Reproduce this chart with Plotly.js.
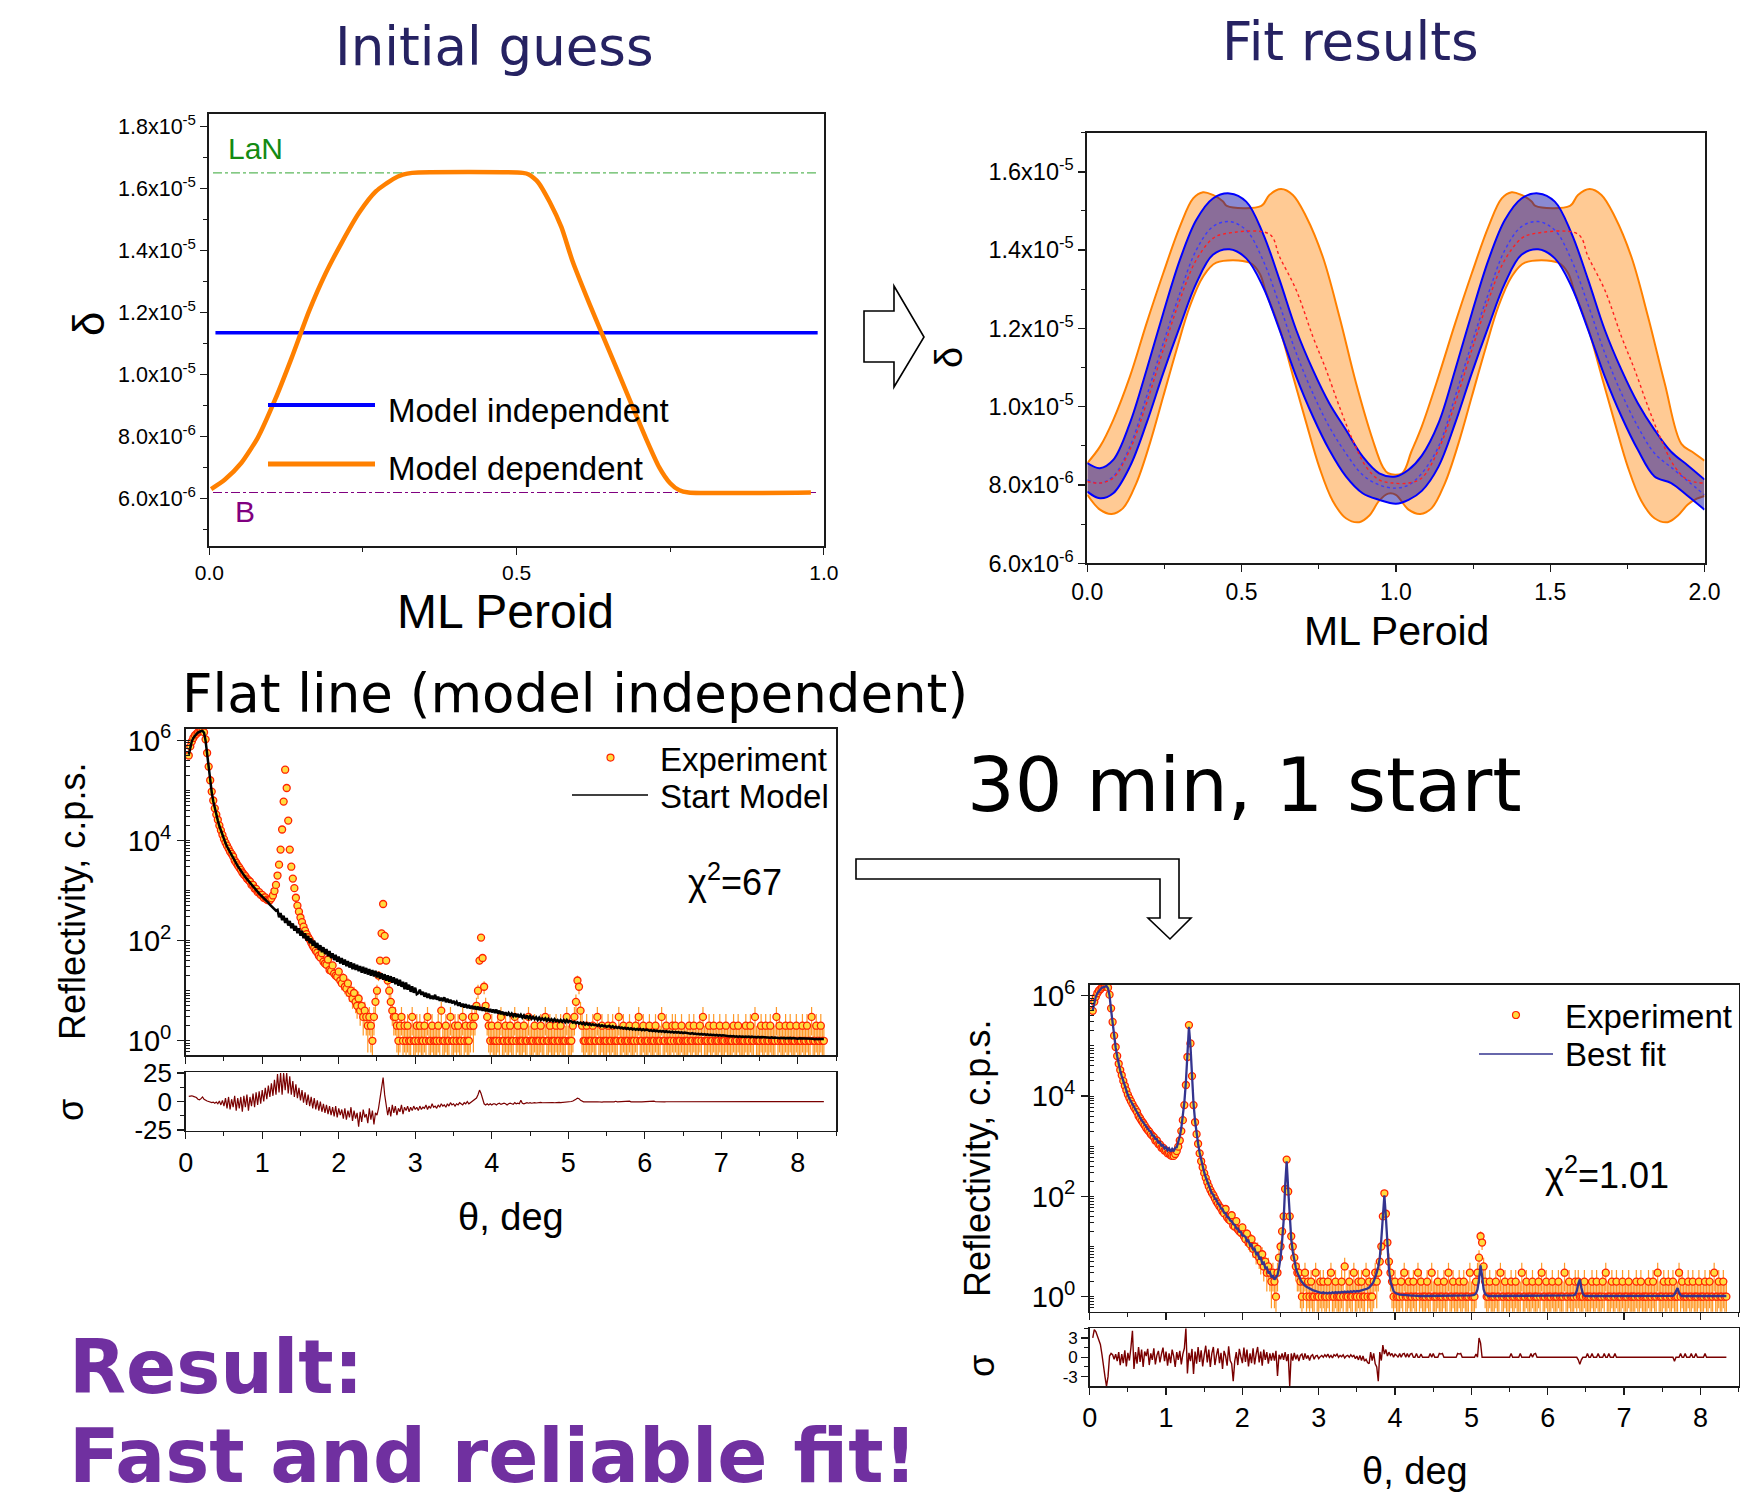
<!DOCTYPE html>
<html>
<head>
<meta charset="utf-8">
<script src="https://cdn.plot.ly/plotly-3.0.1.min.js"></script>
<style>
  html, body { margin: 0; padding: 0; background: #ffffff; }
  #chart { width: 1760px; height: 1503px; }
</style>
</head>
<body>
<div id="chart"></div>
<script>
// ---------------------------------------------------------------------------
// Optical constant profile across one multilayer period (initial guess)
// ---------------------------------------------------------------------------
const deltaLaN = 1.65e-5;          // tabulated delta of LaN
const deltaB = 6.2e-6;             // tabulated delta of B
const deltaFlat = 1.135e-5;        // model-independent start: flat line
const refLineX = [0.006, 0.99];
const flatLineX = [0.01, 0.99];

const modelDepX = [0.003, 0.025, 0.052, 0.079, 0.107, 0.134, 0.162, 0.189, 0.216, 0.244,
  0.271, 0.299, 0.315, 0.33, 0.51, 0.52, 0.535, 0.554, 0.573, 0.591,
  0.618, 0.641, 0.664, 0.687, 0.71, 0.732, 0.75, 0.765, 0.78, 0.979];
const modelDepDelta = [6.31e-6, 6.61e-6, 7.15e-6, 7.97e-6, 9.19e-6, 10.54e-6, 12.03e-6, 13.25e-6, 14.27e-6, 15.22e-6,
  15.9e-6, 16.3e-6, 16.44e-6, 16.5e-6, 16.5e-6, 16.45e-6, 16.2e-6, 15.56e-6, 14.75e-6, 13.66e-6,
  12.31e-6, 11.22e-6, 10.14e-6, 9.05e-6, 7.97e-6, 7.02e-6, 6.5e-6, 6.27e-6, 6.2e-6, 6.2e-6];

// ---------------------------------------------------------------------------
// Fitted delta profiles over two periods with their confidence corridors
// ---------------------------------------------------------------------------
const depUpperX = [0, 0.041, 0.084, 0.138, 0.192, 0.246, 0.3, 0.343, 0.375, 0.407,
  0.44, 0.452, 0.564, 0.59, 0.628, 0.666, 0.709, 0.763, 0.817, 0.871,
  0.925, 0.957, 0.975, 1.02, 1.05, 1.084, 1.138, 1.192, 1.246, 1.3,
  1.343, 1.375, 1.407, 1.44, 1.452, 1.564, 1.59, 1.628, 1.666, 1.709,
  1.763, 1.817, 1.871, 1.925, 1.96, 2.0];
const depUpper = [8.56e-6, 8.98e-6, 9.66e-6, 10.77e-6, 12.13e-6, 13.41e-6, 14.6e-6, 15.32e-6, 15.48e-6, 15.41e-6,
  15.24e-6, 15.13e-6, 15.13e-6, 15.41e-6, 15.56e-6, 15.41e-6, 14.86e-6, 13.83e-6, 12.3e-6, 10.6e-6,
  9.15e-6, 8.47e-6, 8.3e-6, 8.3e-6, 8.85e-6, 9.5e-6, 10.77e-6, 12.13e-6, 13.41e-6, 14.6e-6,
  15.32e-6, 15.48e-6, 15.41e-6, 15.24e-6, 15.13e-6, 15.13e-6, 15.41e-6, 15.56e-6, 15.41e-6, 14.86e-6,
  13.83e-6, 12.3e-6, 10.6e-6, 9.05e-6, 8.85e-6, 8.62e-6];
const depLowerX = [0, 0.041, 0.079, 0.116, 0.159, 0.203, 0.246, 0.289, 0.332, 0.375,
  0.418, 0.526, 0.558, 0.58, 0.623, 0.666, 0.709, 0.752, 0.795, 0.838,
  0.881, 0.914, 0.946, 0.975, 1.0, 1.041, 1.079, 1.116, 1.159, 1.203,
  1.246, 1.289, 1.332, 1.375, 1.418, 1.526, 1.558, 1.58, 1.623, 1.666,
  1.709, 1.752, 1.795, 1.838, 1.881, 1.914, 1.946, 1.975, 2.0];
const depLower = [7.75e-6, 7.37e-6, 7.26e-6, 7.41e-6, 8.05e-6, 9.07e-6, 10.26e-6, 11.45e-6, 12.56e-6, 13.32e-6,
  13.68e-6, 13.68e-6, 13.41e-6, 12.9e-6, 12.0e-6, 10.8e-6, 9.6e-6, 8.45e-6, 7.6e-6, 7.15e-6,
  7.05e-6, 7.22e-6, 7.6e-6, 7.78e-6, 7.75e-6, 7.37e-6, 7.26e-6, 7.41e-6, 8.05e-6, 9.07e-6,
  10.26e-6, 11.45e-6, 12.56e-6, 13.32e-6, 13.68e-6, 13.68e-6, 13.41e-6, 12.9e-6, 12.0e-6, 10.8e-6,
  9.6e-6, 8.45e-6, 7.6e-6, 7.15e-6, 7.05e-6, 7.22e-6, 7.5e-6, 7.65e-6, 7.72e-6];

const indepX = [0, 0.041, 0.084, 0.138, 0.192, 0.246, 0.3, 0.353, 0.407, 0.461,
  0.515, 0.569, 0.623, 0.677, 0.731, 0.784, 0.838, 0.892, 0.946, 1.0,
  1.041, 1.084, 1.138, 1.192, 1.246, 1.3, 1.353, 1.407, 1.461, 1.515,
  1.569, 1.623, 1.677, 1.731, 1.784, 1.838, 1.892, 1.946, 2.0];
const indepUpper = [8.56e-6, 8.43e-6, 8.64e-6, 9.58e-6, 10.94e-6, 12.39e-6, 13.75e-6, 14.77e-6, 15.32e-6, 15.45e-6,
  15.24e-6, 14.43e-6, 13.24e-6, 11.96e-6, 10.94e-6, 10.09e-6, 9.41e-6, 8.73e-6, 8.3e-6, 8.22e-6,
  8.39e-6, 8.75e-6, 9.58e-6, 10.94e-6, 12.39e-6, 13.75e-6, 14.77e-6, 15.32e-6, 15.45e-6, 15.24e-6,
  14.43e-6, 13.24e-6, 11.96e-6, 10.94e-6, 10.09e-6, 9.41e-6, 8.85e-6, 8.5e-6, 8.14e-6];
const indepLower = [7.83e-6, 7.66e-6, 7.79e-6, 8.47e-6, 9.58e-6, 10.86e-6, 12.05e-6, 13.15e-6, 13.88e-6, 14.02e-6,
  13.79e-6, 13.07e-6, 11.96e-6, 10.77e-6, 9.75e-6, 8.9e-6, 8.22e-6, 7.79e-6, 7.62e-6, 7.52e-6,
  7.62e-6, 7.85e-6, 8.47e-6, 9.58e-6, 10.86e-6, 12.05e-6, 13.15e-6, 13.88e-6, 14.02e-6, 13.79e-6,
  13.07e-6, 11.96e-6, 10.77e-6, 9.75e-6, 8.9e-6, 8.22e-6, 8.05e-6, 7.72e-6, 7.37e-6];
const indepBest = [8.13e-6, 8.05e-6, 8.22e-6, 8.98e-6, 10.26e-6, 11.62e-6, 12.9e-6, 14.0e-6, 14.6e-6, 14.73e-6,
  14.51e-6, 13.75e-6, 12.6e-6, 11.37e-6, 10.34e-6, 9.49e-6, 8.81e-6, 8.26e-6, 8.0e-6, 7.92e-6,
  8.0e-6, 8.3e-6, 8.98e-6, 10.26e-6, 11.62e-6, 12.9e-6, 14.0e-6, 14.6e-6, 14.73e-6, 14.51e-6,
  13.75e-6, 12.6e-6, 11.37e-6, 10.34e-6, 9.49e-6, 8.81e-6, 8.45e-6, 8.1e-6, 7.75e-6];
const depBestX = [0, 0.041, 0.084, 0.138, 0.192, 0.246, 0.3, 0.353, 0.407, 0.44,
  0.59, 0.623, 0.677, 0.731, 0.774, 0.817, 0.86, 0.903, 0.946, 0.989,
  1.041, 1.084, 1.138, 1.192, 1.246, 1.3, 1.353, 1.407, 1.44, 1.59,
  1.623, 1.677, 1.731, 1.774, 1.817, 1.86, 1.903, 1.946, 2.0];
const depBest = [8.09e-6, 8.05e-6, 8.18e-6, 8.9e-6, 10.09e-6, 11.45e-6, 12.73e-6, 13.75e-6, 14.3e-6, 14.41e-6,
  14.41e-6, 13.83e-6, 12.98e-6, 11.79e-6, 10.94e-6, 10.0e-6, 9.15e-6, 8.47e-6, 8.13e-6, 8.05e-6,
  8.05e-6, 8.18e-6, 8.9e-6, 10.09e-6, 11.45e-6, 12.73e-6, 13.75e-6, 14.3e-6, 14.41e-6, 14.41e-6,
  13.83e-6, 12.98e-6, 11.79e-6, 10.94e-6, 10.0e-6, 9.15e-6, 8.47e-6, 8.13e-6, 8.05e-6];

// ---------------------------------------------------------------------------
// X-ray reflectivity curves, sampled every 0.02 deg starting at 0.04 deg
// ---------------------------------------------------------------------------
const theta0 = 0.04;
const thetaStep = 0.02;

const expCounts = [
  5.0e5, 7.6e5, 9.5e5, 1.12e6, 1.26e6, 1.35e6, 1.45e6, 1.5e6, 1.55e6, 1.55e6, 1.45e6, 1.05e6, 5.6e5, 3.0e5, 1.6e5, 9.5e4, 6.3e4, 4.4e4, 3.3e4, 2.6e4, 2.0e4, 1.6e4, 1.3e4, 1.07e4, 9.1e3,
  7.9e3, 6.9e3, 6.0e3, 5.4e3, 4.8e3, 4.0e3, 3.6e3, 3.2e3, 2.9e3, 2.6e3, 2.3e3, 2.1e3, 1.95e3, 1.74e3, 1.62e3, 1.52e3, 1.3e3, 1.3e3, 1.1e3, 1.08e3, 930, 930, 820, 820, 720,
  730, 660, 640, 640, 700, 800, 980, 1.3e3, 2.0e3, 3.3e3, 6.6e3, 1.66e4, 6.0e4, 2.6e5, 1.12e5, 2.5e4, 6.6e3, 3.0e3, 1.74e3, 1.12e3, 720, 500, 380, 290, 234,
  190, 158, 135, 117, 105, 91, 79, 71, 63, 58, 50, 46, 56, 38, 35, 33, 42, 26, 25, 32, 22, 20, 19, 24, 16,
  14, 18, 12, 11, 14, 9, 10, 7, 9, 6, 5, 7, 4, 5, 3, 4, 3, 2, 3, 2, 1, 3, 6, 10, 20,
  40, 140, 540, 125, 40, 16, 10, 6, 4, 3, 3, 2, 1, 2, 3, 1, 2, 1, 2, 1, 1, 3, 1, 1, 2,
  1, 2, 1, 1, 2, 1, 3, 1, 1, 2, 1, 1, 1, 2, 1, 4, 1, 1, 2, 1, 1, 3, 1, 1, 2,
  1, 2, 1, 1, 3, 1, 2, 1, 1, 2, 3, 2, 3, 5, 10, 40, 115, 45, 12, 5, 3, 2, 1, 2, 1,
  1, 1, 2, 1, 3, 1, 1, 2, 1, 1, 2, 1, 1, 3, 1, 2, 1, 1, 1, 2, 1, 1, 3, 1, 1,
  1, 2, 1, 1, 1, 2, 1, 1, 3, 1, 1, 2, 1, 1, 1, 2, 1, 1, 2, 1, 1, 1, 3, 1, 1,
  1, 2, 3, 6, 16, 12, 4, 2, 1, 1, 2, 1, 1, 1, 2, 1, 1, 3, 1, 1, 2, 1, 1, 1, 2,
  1, 1, 2, 1, 1, 1, 3, 1, 1, 2, 1, 1, 1, 2, 1, 1, 1, 2, 1, 3, 1, 1, 2, 1, 1,
  1, 2, 1, 1, 1, 2, 1, 1, 1, 3, 1, 1, 2, 1, 1, 1, 2, 1, 2, 1, 1, 1, 2, 1, 1,
  1, 1, 2, 1, 1, 2, 1, 1, 1, 2, 1, 3, 1, 1, 1, 2, 1, 1, 2, 1, 1, 1, 2, 1, 1,
  1, 2, 1, 1, 1, 1, 2, 1, 1, 2, 1, 1, 1, 1, 2, 1, 1, 2, 1, 1, 3, 1, 1, 1, 2,
  1, 1, 2, 1, 1, 2, 1, 1, 1, 3, 1, 2, 1, 1, 1, 2, 1, 1, 2, 1, 1, 1, 2, 1, 1,
  1, 2, 1, 1, 2, 1, 1, 3, 1, 1, 2, 1, 1, 2, 1, 1];

const startModel = [
  5.2e5, 7.8e5, 9.6e5, 1.12e6, 1.25e6, 1.34e6, 1.43e6, 1.5e6, 1.54e6, 1.54e6, 1.42e6, 9.8e5, 5.2e5, 2.8e5, 1.5e5, 9.2e4, 6.1e4, 4.3e4, 3.2e4, 2.5e4, 1.95e4, 1.56e4, 1.27e4, 1.05e4, 8.9e3,
  7.6e3, 6.6e3, 5.8e3, 5.0e3, 4.5e3, 3.9e3, 3.5e3, 3.1e3, 2.75e3, 2.5e3, 2.24e3, 2.04e3, 1.86e3, 1.7e3, 1.55e3, 1.41e3, 1.29e3, 1.2e3, 1.1e3, 1.02e3, 930, 870, 810, 760, 710,
  660, 617, 575, 525, 490, 457, 427, 398, 412, 292, 355, 257, 316, 226, 282, 200, 248, 178, 221, 158, 197, 141, 176, 126, 157,
  112, 140, 100, 124, 89, 111, 79, 100, 72, 90, 65, 81, 59, 74, 54, 68, 49, 62, 45, 56, 41, 52, 38, 48, 35,
  45, 33, 42, 31, 39, 29, 37, 27, 35, 26, 33, 24.5, 31, 23, 30, 22, 28.5, 21, 27, 20, 26, 19.3, 25, 18.4, 23.7,
  17.4, 22.4, 16.6, 21.4, 15.8, 20.4, 15.1, 19.5, 14.5, 18.6, 13.5, 17.4, 12.6, 16.6, 12, 15.1, 10.7, 14.5, 10.5, 13.2, 9.5, 12.3, 9.1, 11.5, 8.5,
  8.9, 10.5, 8.3, 9.5, 7.6, 9.1, 7.2, 8.7, 6.9, 7.9, 6.8, 8.3, 6.6, 7.6, 6.3, 7.2, 6.2, 7.4, 5.9, 6.9, 5.8, 6.6, 5.6, 6.3, 5.5,
  6.0, 5.0, 5.8, 4.8, 5.5, 4.6, 5.4, 4.5, 5.2, 4.4, 5.0, 4.3, 4.9, 4.2, 4.8, 4.1, 4.7, 4.0, 4.6, 3.9, 4.4, 3.8, 4.3, 3.7, 4.2,
  3.6, 4.2, 3.5, 4.0, 3.4, 3.8, 3.3, 3.7, 3.2, 3.6, 3.2, 3.5, 3.1, 3.5, 3.0, 3.4, 2.95, 3.3, 2.9, 3.2, 2.8, 3.2, 2.8, 3.1, 2.75,
  3.0, 2.7, 2.95, 2.6, 2.9, 2.6, 2.8, 2.6, 2.8, 2.5, 2.75, 2.5, 2.7, 2.45, 2.7, 2.45, 2.6, 2.4, 2.6, 2.4, 2.6, 2.35, 2.6, 2.35, 2.5,
  2.45, 2.3, 2.4, 2.25, 2.35, 2.2, 2.3, 2.15, 2.3, 2.1, 2.25, 2.1, 2.2, 2.05, 2.15, 2.05, 2.1, 2.0, 2.1, 1.95, 2.05, 1.95, 2.0, 1.9, 1.95,
  1.98, 1.85, 1.95, 1.82, 1.9, 1.8, 1.88, 1.78, 1.85, 1.75, 1.82, 1.72, 1.8, 1.7, 1.78, 1.68, 1.75, 1.66, 1.73, 1.65, 1.72, 1.63, 1.7, 1.62, 1.68,
  1.65, 1.58, 1.63, 1.56, 1.62, 1.55, 1.6, 1.53, 1.58, 1.52, 1.57, 1.5, 1.55, 1.49, 1.53, 1.47, 1.52, 1.46, 1.5, 1.45, 1.49, 1.44, 1.48, 1.42, 1.46,
  1.44, 1.4, 1.43, 1.38, 1.42, 1.37, 1.4, 1.35, 1.38, 1.34, 1.37, 1.33, 1.36, 1.31, 1.35, 1.3, 1.33, 1.29, 1.32, 1.28, 1.31, 1.27, 1.3, 1.26, 1.29,
  1.27, 1.24, 1.26, 1.23, 1.25, 1.22, 1.24, 1.21, 1.23, 1.2, 1.23, 1.2, 1.22, 1.19, 1.22, 1.19, 1.21, 1.18, 1.21, 1.18, 1.2, 1.17, 1.2, 1.17, 1.19,
  1.18, 1.16, 1.18, 1.15, 1.17, 1.15, 1.17, 1.14, 1.16, 1.14, 1.16, 1.13, 1.15, 1.13, 1.15, 1.12, 1.14, 1.12, 1.14, 1.11, 1.13, 1.11, 1.13, 1.1, 1.12,
  1.12, 1.1, 1.12, 1.1, 1.11, 1.09, 1.11, 1.09, 1.1, 1.08, 1.1, 1.08, 1.1, 1.08, 1.09, 1.08];

const bestFit = [
  5.2e5, 7.6e5, 9.5e5, 1.12e6, 1.26e6, 1.35e6, 1.45e6, 1.5e6, 1.55e6, 1.55e6, 1.41e6, 1.0e6, 5.2e5, 2.8e5, 1.5e5, 9.3e4, 6.2e4, 4.3e4, 3.2e4, 2.5e4, 1.95e4, 1.55e4, 1.26e4, 1.05e4, 8.9e3,
  7.8e3, 6.8e3, 5.9e3, 5.2e3, 4.7e3, 4.2e3, 3.7e3, 3.3e3, 2.95e3, 2.7e3, 2.45e3, 2.24e3, 2.04e3, 1.95e3, 1.62e3, 1.62e3, 1.38e3, 1.38e3, 1.17e3, 1.2e3, 1.02e3, 1.05e3, 900, 960, 820,
  900, 780, 880, 790, 930, 950, 1.2e3, 1.58e3, 2.3e3, 3.8e3, 7.6e3, 1.9e4, 7.1e4, 2.4e5, 1.0e5, 2.2e4, 7.1e3, 3.2e3, 1.78e3, 1.12e3, 740, 525, 400, 300, 240,
  200, 155, 142, 115, 108, 89, 86, 71, 68, 57, 56, 47, 46, 39, 38, 33, 32, 28, 27, 23, 23, 19.5, 19.5, 16.5, 16.5,
  15.5, 12.8, 13.2, 10.6, 11.0, 8.8, 9.0, 7.1, 7.4, 5.8, 6.0, 4.6, 4.8, 3.7, 3.8, 3.0, 3.1, 2.5, 2.6, 2.2, 2.5, 2.7, 3.8, 6.0, 12.6,
  32, 160, 500, 140, 35, 14, 7.9, 5.2, 3.8, 3.0, 2.5, 2.2, 1.95, 1.78, 1.66, 1.58, 1.51, 1.45, 1.38, 1.35, 1.32, 1.29, 1.26, 1.23, 1.23,
  1.18, 1.22, 1.17, 1.2, 1.16, 1.21, 1.17, 1.22, 1.18, 1.23, 1.19, 1.24, 1.2, 1.25, 1.21, 1.26, 1.22, 1.27, 1.23, 1.28, 1.24, 1.29, 1.25, 1.3, 1.27,
  1.3, 1.32, 1.34, 1.37, 1.4, 1.45, 1.52, 1.62, 1.78, 2.0, 2.4, 3.0, 4.0, 6, 14, 45, 105, 38, 9, 3.5, 2.0, 1.5, 1.3, 1.2, 1.15,
  1.12, 1.1, 1.09, 1.08, 1.07, 1.07, 1.06, 1.06, 1.05, 1.05, 1.05, 1.04, 1.04, 1.04, 1.04, 1.03, 1.03, 1.03, 1.03, 1.03, 1.03, 1.03, 1.03, 1.03, 1.03,
  1.03, 1.03, 1.03, 1.03, 1.03, 1.03, 1.03, 1.03, 1.03, 1.03, 1.03, 1.03, 1.03, 1.03, 1.03, 1.03, 1.03, 1.03, 1.03, 1.03, 1.04, 1.04, 1.05, 1.06, 1.07,
  1.09, 1.16, 1.4, 2.2, 4.2, 2.6, 1.4, 1.12, 1.05, 1.03, 1.03, 1.03, 1.03, 1.03, 1.03, 1.03, 1.03, 1.03, 1.03, 1.03, 1.03, 1.03, 1.03, 1.03, 1.03,
  1.03, 1.03, 1.03, 1.03, 1.03, 1.03, 1.03, 1.03, 1.03, 1.03, 1.03, 1.03, 1.03, 1.03, 1.03, 1.03, 1.03, 1.03, 1.03, 1.03, 1.03, 1.03, 1.03, 1.03, 1.03,
  1.03, 1.03, 1.03, 1.03, 1.03, 1.03, 1.03, 1.03, 1.03, 1.03, 1.03, 1.03, 1.03, 1.03, 1.04, 1.06, 1.1, 1.3, 1.8, 2.2, 1.5, 1.15, 1.05, 1.03, 1.03,
  1.03, 1.03, 1.03, 1.03, 1.03, 1.03, 1.03, 1.03, 1.03, 1.03, 1.03, 1.03, 1.03, 1.03, 1.03, 1.03, 1.03, 1.03, 1.03, 1.03, 1.03, 1.03, 1.03, 1.03, 1.03,
  1.03, 1.03, 1.03, 1.03, 1.03, 1.03, 1.03, 1.03, 1.03, 1.03, 1.03, 1.03, 1.03, 1.03, 1.03, 1.03, 1.03, 1.03, 1.03, 1.03, 1.03, 1.03, 1.03, 1.03, 1.03,
  1.03, 1.03, 1.03, 1.03, 1.03, 1.04, 1.1, 1.3, 1.48, 1.2, 1.06, 1.03, 1.03, 1.03, 1.03, 1.03, 1.03, 1.03, 1.03, 1.03, 1.03, 1.03, 1.03, 1.03, 1.03,
  1.03, 1.03, 1.03, 1.03, 1.03, 1.03, 1.03, 1.03, 1.03, 1.03, 1.03, 1.03, 1.03, 1.03, 1.03, 1.03];

// normalised residuals (experiment - model) / error
const residStart = [
  4.5, 5, 5, 4.5, 4, 3.5, 2, 1.5, 2.5, 4, 2, 1, 0.5, 0, -0.5, -1, -0.5, -1.5, -0.5, -2, 0.5, -3, 1, -4, 3,
  -6, 4, -7, 2, -5, 5, -8, 3, -6, 4, -9, 5, -5, 6, -8, 4, -4, 7, -5, 8, -3, 9, -2, 10, 0,
  12, 2, 14, 4, 16, 5, 19, 6, 24, 8, 25, 6, 25, 10, 25, 7, 22, 6, 18, 4, 15, 3, 12, 1, 10,
  -1, 8, -3, 6, -4, 4, -6, 3, -7, 1, -8, 0, -9, -2, -10, -3, -11, -4, -12, -5, -13, -4, -14, -6, -12,
  -7, -15, -6, -16, -8, -14, -5, -17, -8, -15, -10, -22, -9, -18, -7, -14, -11, -19, -6, -16, -8, -20, -10, -12, -6,
  2, 10, 21, 6, -4, -12, -5, -13, -3, -10, -4, -12, -6, -9, -3, -11, -5, -8, -4, -9, -5, -8, -4, -7, -5,
  -8, -4, -7, -5, -6, -3, -7, -4, -6, -2, -5, -4, -6, -3, -5, -2, -4, -3, -5, -2, -4, -1, -3, -2, -4,
  -2, -3, -1, -2, -3, -1, -2, 0, -2, -1, 0, 1, 2, 3, 6, 10, 7, 2, -2, -3, -2, -3, -2, -3, -2,
  -2, -3, -2, -1.5, -2.5, -2, -1.5, -2, -3, -2, -1.5, -2, -2.5, -1, -2, -1.5, -2, 1, -1.5, -2, -1.5, -1, -1.5, -1, -1.5,
  -1.2, -1, -1.3, -1, -1.2, -0.8, -1.1, -1, -1.2, -0.9, -1, -1.1, -0.8, -1, -1.1, -0.9, -1, -0.8, -1, -0.9, -0.8, -1, -0.8, -0.7, -0.5,
  0, 0.5, 1, 2, 3, 2.5, 1, 0, -0.3, -0.3, -0.5, -0.3, -0.4, -0.3, -0.5, -0.3, -0.4, -0.2, -0.4, -0.3, -0.5, -0.3, -0.4, -0.3, -0.2,
  -0.3, -0.2, -0.4, -0.3, 0.2, -0.3, -0.2, -0.3, -0.4, -0.2, -0.3, -0.3, -0.2, 0.3, -0.3, -0.2, -0.3, -0.2, -0.3, -0.4, -0.2, -0.3, -0.2, -0.3, -0.2,
  -0.2, -0.3, -0.2, -0.2, 0.3, -0.2, -0.3, -0.2, -0.2, -0.1, -0.2, -0.3, -0.2, -0.2, -0.1, 0.3, -0.2, -0.2, -0.1, -0.2, -0.2, -0.1, -0.2, -0.2, -0.1,
  -0.2, -0.1, -0.2, -0.1, -0.2, -0.1, 0.3, -0.1, -0.2, -0.1, -0.1, -0.2, -0.1, -0.1, -0.2, -0.1, -0.1, 0.2, -0.1, -0.1, -0.2, -0.1, -0.1, -0.1, -0.2,
  -0.1, -0.1, -0.2, -0.1, -0.1, -0.1, 0.2, -0.1, -0.1, -0.1, -0.2, -0.1, -0.1, -0.1, -0.1, 0.3, -0.1, -0.1, -0.1, -0.1, -0.2, -0.1, -0.1, -0.1, -0.1,
  -0.1, -0.1, -0.1, 0.3, -0.1, -0.1, -0.1, -0.1, -0.1, -0.2, -0.1, -0.1, -0.1, 0.2, -0.1, -0.1, -0.1, -0.1, -0.1, -0.1, 0.2, -0.1, -0.1, -0.1, -0.1,
  -0.1, -0.1, 0.2, -0.1, -0.1, -0.1, -0.1, 0.2, -0.1, -0.1, -0.1, -0.1, 0.2, -0.1, -0.1, -0.1];

const residBest = [
  3, 4.3, 4, 3.2, 2.6, 2, 0.5, -1.5, -3, -4.5, -3, 0.2, 0.6, 0.4, -0.3, 0.5, -0.6, 0.8, -1.2, 0.5, -0.9, 1.1, -1.4, 0.7, -0.5,
  1.5, 4.1, -1.8, 0.8, -1, 1.6, -0.7, 1.2, -1.5, 0.9, 0.2, 1.3, -1.2, 0.6, -0.4, 1.4, -1.1, 0.3, 1.0, -0.8, 0.5, 1.5, -0.6, 0.9, -1.3,
  0.6, -0.9, 1.2, 0.2, -1.5, 0.8, -0.4, 1.0, -1.1, 0.5, 1.4, 4.5, -2.5, 0.7, -0.6, 1.3, -2.6, 0.9, -1.0, 1.6, -0.7, 1.1, -1.4, 0.4, 1.8,
  -0.8, 1.2, -1.5, 0.6, 1.6, -1.2, 0.3, 1.4, -0.9, 0.7, -1.8, 1.0, 0.2, -1.3, 1.7, -0.5, -1.0, -3.7, -0.6, 0.8, -1.2, 1.3, 0.1, -0.9, 1.5,
  -0.7, 1.2, -1.4, 0.6, -0.9, 1.4, -1.1, 0.5, 1.6, -0.8, 0.9, -1.3, 1.2, -0.4, 0.8, -1.0, 0.6, -0.5, 0.7, -0.5, 1.0, -2.9, 0.4, -0.3, 0.6,
  -0.4, 0.8, -0.6, 0.5, -4.5, 0.6, -0.5, 0.7, -0.3, 0.4, -0.6, 0.3, 0.5, -0.4, 0.6, -0.2, 0.3, -0.5, 0.2, 0.4, -0.3, 0.2, 0.3, -0.2, 0.1,
  0.3, 0, 0.4, 0.1, 0.5, 0, 0.3, -0.1, 0.4, 0.2, 0.5, 0, 0.3, 0.1, 0.4, -0.1, 0.2, 0.3, 0, 0.4, 0.1, 0.3, -0.2, 0.2, -0.4,
  0.3, -0.5, 0.2, -0.6, -0.3, -0.8, -1.0, 0.8, -0.5, 0.6, -1.0, -1.5, -3.7, 0.8, -0.5, 1.9, 0.5, 1.2, 0.2, 0.8, 0.3, 0.6, 0, 0.5, 0.3,
  0, 0.6, 0, 0.5, 0.6, 0, 0.6, 0, 0.5, 0.6, 0, 0, 0.6, 0, 0, 0.5, 0, 0, 0, 0, 0, 0.6, 0, 0.6, 0,
  0, 0, 0.6, 0.5, 0.6, 0, 0, 0, 0, 0, 0, 0, 0, 0, 0.6, 0.5, 0.6, 0, 0, 0, 0, 0, 0, 0, 0,
  0, 0.5, 0, 3, 2.2, 0, 0, 0, 0, 0, 0, 0, 0, 0, 0, 0, 0, 0, 0, 0, 0, 0, 0, 0, 0.6,
  0, 0, 0, 0, 0, 0.6, 0, 0, 0, 0, 0, 0, 0.6, 0, 0.5, 0.6, 0, 0, 0, 0, 0, 0, 0, 0, 0,
  0, 0, 0, 0, 0, 0, 0, 0, 0, 0, 0, 0, 0, 0, 0, 0, 0, 0, -0.4, -1.1, -0.4, 0, 0, 0, 0.6,
  0, 0, 0.6, 0, 0, 0, 0.6, 0, 0, 0, 0.6, 0, 0, 0.6, 0, 0, 0, 0.6, 0, 0, 0, 0, 0, 0, 0,
  0, 0, 0, 0, 0, 0, 0, 0, 0, 0, 0, 0, 0, 0, 0, 0, 0, 0, 0, 0, 0, 0, 0, 0, 0,
  0, 0, 0, 0, 0, 0, -0.6, 0, 0, 0, 0.6, 0, 0, 0.6, 0, 0, 0, 0.6, 0, 0, 0.6, 0, 0, 0, 0,
  0, 0.6, 0, 0, 0, 0, 0, 0, 0, 0, 0, 0, 0, 0, 0, 0];

// tick labels
const deltaTicksL = [6e-6, 8e-6, 1e-5, 1.2e-5, 1.4e-5, 1.6e-5, 1.8e-5];
const deltaLabelsL = ['6.0x10<sup>-6</sup>', '8.0x10<sup>-6</sup>', '1.0x10<sup>-5</sup>', '1.2x10<sup>-5</sup>',
  '1.4x10<sup>-5</sup>', '1.6x10<sup>-5</sup>', '1.8x10<sup>-5</sup>'];
const deltaTicksR = [6e-6, 8e-6, 1e-5, 1.2e-5, 1.4e-5, 1.6e-5];
const deltaLabelsR = ['6.0x10<sup>-6</sup>', '8.0x10<sup>-6</sup>', '1.0x10<sup>-5</sup>', '1.2x10<sup>-5</sup>',
  '1.4x10<sup>-5</sup>', '1.6x10<sup>-5</sup>'];
const decadeTicks = [1, 100, 1e4, 1e6];
const decadeLabels = ['10<sup>0</sup>', '10<sup>2</sup>', '10<sup>4</sup>', '10<sup>6</sup>'];
const residTicksL = [-25, 0, 25];
const residLabelsL = ['-25', '0', '25'];
const residTicksR = [-3, 0, 3];
const residLabelsR = ['-3', '0', '3'];

// ---------------------------------------------------------------------------
// Page geometry and styling
// ---------------------------------------------------------------------------
const W = 1760, H = 1503;
const px = v => v / W;
const py = v => 1 - v / H;
const SANS = '"Liberation Sans", Arial, Helvetica, sans-serif';
const VERD = '"DejaVu Sans", Verdana, sans-serif';
const INK = '#1a1a1a';
const NAVY = '#262262';
const PURPLE = '#7030a0';

// minor tick positions of the logarithmic axes (1..9 of every decade)
const logMinor = [];
for (let e = -1; e <= 6; e++) {
  for (let d = 1; d <= 9; d++) logMinor.push(d * Math.pow(10, e));
}

function frame(extra) {
  return Object.assign({
    showline: true, linecolor: INK, linewidth: 1.5, mirror: true,
    showgrid: false, zeroline: false, fixedrange: true,
    ticks: 'outside', ticklen: 7, tickwidth: 1.3, tickcolor: INK
  }, extra);
}
// tick-only companion axes drawing inward ticks on the top / right edges
function inner(extra) {
  return Object.assign({
    showline: false, showgrid: false, zeroline: false, fixedrange: true, showticklabels: false,
    ticks: 'inside', ticklen: 7, tickwidth: 1.3, tickcolor: INK
  }, extra);
}
const tf = s => ({family: SANS, size: s, color: '#000'});
const minorLin = (d, len, dir) => ({tickmode: 'linear', tick0: 0, dtick: d, ticks: dir || 'outside', ticklen: len || 4, tickwidth: 1, tickcolor: INK});
const minorLog = {tickmode: 'array', tickvals: logMinor, ticks: 'inside', ticklen: 4, tickwidth: 1, tickcolor: INK};

const expMarker = {symbol: 'circle', size: 7, color: '#ffdc40', line: {color: '#ff2200', width: 1.3}};
const expErr = {type: 'sqrt', visible: true, color: 'rgba(255,135,0,0.85)', thickness: 1.2, width: 0};
const residColor = '#7a0000';
const smooth = {shape: 'spline', smoothing: 1};

const traces = [
  // Initial guess
  {x: refLineX, y: [deltaLaN, deltaLaN], xaxis: 'x', yaxis: 'y', mode: 'lines', name: 'LaN',
   line: {color: '#5cb85c', width: 1.2, dash: 'dashdot'}},
  {x: refLineX, y: [deltaB, deltaB], xaxis: 'x', yaxis: 'y', mode: 'lines', name: 'B',
   line: {color: '#800080', width: 1.2, dash: 'dashdot'}},
  {x: flatLineX, y: [deltaFlat, deltaFlat], xaxis: 'x', yaxis: 'y', mode: 'lines', name: 'Model independent',
   line: {color: '#0000ff', width: 3.5}},
  {x: modelDepX, y: modelDepDelta, xaxis: 'x', yaxis: 'y', mode: 'lines', name: 'Model dependent',
   line: {color: '#ff8000', width: 4.5, shape: 'spline', smoothing: 0.6}},
  // Fit results: model dependent corridor
  {x: depLowerX, y: depLower, xaxis: 'x2', yaxis: 'y2', mode: 'lines', name: 'Model dependent, lower',
   line: Object.assign({color: '#ff8000', width: 2}, smooth)},
  {x: depUpperX, y: depUpper, xaxis: 'x2', yaxis: 'y2', mode: 'lines', name: 'Model dependent, upper',
   fill: 'tonexty', fillcolor: 'rgba(255,128,0,0.42)', line: Object.assign({color: '#ff8000', width: 2}, smooth)},
  // Fit results: model independent corridor
  {x: indepX, y: indepLower, xaxis: 'x2', yaxis: 'y2', mode: 'lines', name: 'Model independent, lower',
   line: Object.assign({color: '#0000ff', width: 2}, smooth)},
  {x: indepX, y: indepUpper, xaxis: 'x2', yaxis: 'y2', mode: 'lines', name: 'Model independent, upper',
   fill: 'tonexty', fillcolor: 'rgba(0,0,160,0.46)', line: Object.assign({color: '#0000ff', width: 2}, smooth)},
  {x: indepX, y: indepBest, xaxis: 'x2', yaxis: 'y2', mode: 'lines', name: 'Model independent',
   line: Object.assign({color: '#3a3aff', width: 1.4, dash: 'dot'}, smooth)},
  {x: depBestX, y: depBest, xaxis: 'x2', yaxis: 'y2', mode: 'lines', name: 'Model dependent',
   line: Object.assign({color: '#ff2020', width: 1.4, dash: 'dot'}, smooth)},
  // Flat-line start
  {x0: theta0, dx: thetaStep, y: expCounts, xaxis: 'x3', yaxis: 'y3', mode: 'markers', name: 'Experiment',
   marker: expMarker, error_y: expErr},
  {x0: theta0, dx: thetaStep, y: startModel, xaxis: 'x3', yaxis: 'y3', mode: 'lines', name: 'Start Model',
   line: {color: '#000000', width: 2.5}},
  {x0: theta0, dx: thetaStep, y: residStart, xaxis: 'x4', yaxis: 'y4', mode: 'lines', name: 'σ',
   line: {color: residColor, width: 1.2}},
  // Best fit
  {x0: theta0, dx: thetaStep, y: expCounts, xaxis: 'x5', yaxis: 'y5', mode: 'markers', name: 'Experiment',
   marker: expMarker, error_y: expErr},
  {x0: theta0, dx: thetaStep, y: bestFit, xaxis: 'x5', yaxis: 'y5', mode: 'lines', name: 'Best fit',
   line: {color: '#34348f', width: 2.3}},
  {x0: theta0, dx: thetaStep, y: residBest, xaxis: 'x6', yaxis: 'y6', mode: 'lines', name: 'σ',
   line: {color: residColor, width: 1.4}}
];

const annotations = [];
function txt(text, x, y, size, opts) {
  annotations.push(Object.assign({
    xref: 'paper', yref: 'paper', x: px(x), y: py(y), text: text, showarrow: false,
    xanchor: 'center', yanchor: 'middle', font: {family: SANS, size: size, color: '#000'}
  }, opts || {}));
}
// headings
txt('Initial guess', 494, 46, 53, {font: {family: VERD, size: 53, color: NAVY}});
txt('Fit results', 1350, 41, 53, {font: {family: VERD, size: 53, color: NAVY}});
txt('Flat line (model independent)', 575, 693, 53, {font: {family: VERD, size: 53, color: '#000'}});
txt('30 min, 1 start', 1244, 785, 75, {font: {family: VERD, size: 75, color: '#000'}});
txt('Result:', 67, 1367, 74, {xanchor: 'left', font: {family: VERD, size: 74, color: PURPLE, weight: 700}});
txt('Fast and reliable fit!', 67, 1456, 74, {xanchor: 'left', font: {family: VERD, size: 74, color: PURPLE, weight: 700}});
// initial guess panel
txt('ML Peroid', 505, 611, 48);
txt('δ', 88, 324, 44, {textangle: -90});
txt('LaN', 226, 149, 30, {xanchor: 'left', font: {family: SANS, size: 30, color: '#138a13'}});
txt('B', 233, 511, 30, {xanchor: 'left', font: {family: SANS, size: 30, color: '#800080'}});
txt('Model independent', 386, 410, 33, {xanchor: 'left'});
txt('Model dependent', 386, 468, 33, {xanchor: 'left'});
// fit results panel
txt('ML Peroid', 1396, 631, 41);
txt('δ', 949, 358, 38, {textangle: -90});
// flat line panel
txt('θ, deg', 511, 1217, 38);
txt('Reflectivity, c.p.s.', 72, 902, 36, {textangle: -90});
txt('σ', 70, 1110, 36, {textangle: -90});
txt('Experiment', 658, 759, 33, {xanchor: 'left'});
txt('Start Model', 658, 796, 33, {xanchor: 'left'});
txt('χ<sup>2</sup>=67', 735, 880, 36);
// best fit panel
txt('θ, deg', 1415, 1471, 38);
txt('Reflectivity, c.p.s.', 977, 1158, 36, {textangle: -90});
txt('σ', 981, 1366, 36, {textangle: -90});
txt('Experiment', 1563, 1016, 33, {xanchor: 'left'});
txt('Best fit', 1563, 1054, 33, {xanchor: 'left'});
txt('χ<sup>2</sup>=1.01', 1607, 1173, 36);

// outlined arrows and legend keys
function outline(pts) {
  return 'M ' + pts.map(p => px(p[0]).toFixed(5) + ',' + py(p[1]).toFixed(5)).join(' L ') + ' Z';
}
const shapes = [
  {type: 'path', xref: 'paper', yref: 'paper', fillcolor: '#ffffff', line: {color: '#000', width: 1.6},
   path: outline([[864, 311], [894, 311], [894, 286], [924, 337], [894, 387], [894, 362], [864, 362]])},
  {type: 'path', xref: 'paper', yref: 'paper', fillcolor: '#ffffff', line: {color: '#000', width: 1.6},
   path: outline([[856, 859], [1179, 859], [1179, 918], [1191, 918], [1170, 939], [1148, 918], [1160, 918], [1160, 879], [856, 879]])}
];
function keyLine(x0, x1, y, color, width) {
  shapes.push({type: 'line', xref: 'paper', yref: 'paper', x0: px(x0), x1: px(x1), y0: py(y), y1: py(y),
    line: {color: color, width: width}});
}
function keyDot(cx, cy) {
  shapes.push({type: 'circle', xref: 'paper', yref: 'paper', x0: px(cx - 3.5), x1: px(cx + 3.5),
    y0: py(cy + 3.5), y1: py(cy - 3.5), fillcolor: '#ffdc40', line: {color: '#ff2200', width: 1.2}});
}
keyLine(268, 375, 405, '#0000ff', 4);
keyLine(268, 375, 464, '#ff8000', 5);
keyDot(610.5, 757.6);
keyLine(572, 648, 795, '#000000', 1.5);
keyDot(1516, 1015);
keyLine(1479, 1553, 1054, '#34348f', 1.5);

const rangeTL = [4.479e-6, 1.841e-5];
const rangeTR = [6e-6, 1.7e-5];
const rangeLogL = [-0.29, 6.23];
const rangeLogR = [-0.30, 6.22];

const layout = {
  width: W, height: H,
  margin: {l: 0, r: 0, t: 0, b: 0},
  paper_bgcolor: '#ffffff', plot_bgcolor: '#ffffff',
  showlegend: false,
  font: {family: SANS, color: '#000'},
  // Initial guess
  xaxis: frame({domain: [px(209.3), px(823.8)], anchor: 'y', range: [0, 1], tick0: 0, dtick: 0.5, tickformat: '.1f',
    minor: minorLin(0.25), tickfont: tf(21), linewidth: 2}),
  yaxis: frame({domain: [py(545.9), py(113.6)], anchor: 'x', range: rangeTL,
    tickmode: 'array', tickvals: deltaTicksL, ticktext: deltaLabelsL, minor: minorLin(1e-6), tickfont: tf(21.5), linewidth: 2}),
  // Fit results
  xaxis2: frame({domain: [px(1087.3), px(1704.5)], anchor: 'y2', range: [0, 2], tick0: 0, dtick: 0.5, tickformat: '.1f',
    minor: minorLin(0.25), tickfont: tf(23), linewidth: 2}),
  yaxis2: frame({domain: [py(563.3), py(132.7)], anchor: 'x2', range: rangeTR,
    tickmode: 'array', tickvals: deltaTicksR, ticktext: deltaLabelsR, minor: minorLin(1e-6), tickfont: tf(23.5), linewidth: 2}),
  // Flat line: reflectivity + residual
  xaxis3: frame({domain: [px(185.7), px(836.1)], anchor: 'y3', range: [0, 8.5], tick0: 0, dtick: 1,
    showticklabels: false, minor: minorLin(0.5, 4)}),
  yaxis3: frame({domain: [py(1055.3), py(728.9)], anchor: 'x3', type: 'log', range: rangeLogL,
    tickmode: 'array', tickvals: decadeTicks, ticktext: decadeLabels, minor: minorLog, tickfont: tf(29)}),
  xaxis4: frame({domain: [px(185.7), px(836.1)], anchor: 'y4', range: [0, 8.5], tick0: 0, dtick: 1,
    minor: minorLin(0.5, 4), tickfont: tf(27)}),
  yaxis4: frame({domain: [py(1130.7), py(1072.2)], anchor: 'x4', range: [-25.6, 25.7],
    tickmode: 'array', tickvals: residTicksL, ticktext: residLabelsL, minor: minorLin(12.5, 4), tickfont: tf(26)}),
  // Best fit: reflectivity + residual
  xaxis5: frame({domain: [px(1089.7), px(1738.6)], anchor: 'y5', range: [0, 8.5], tick0: 0, dtick: 1,
    showticklabels: false, minor: minorLin(0.5, 4)}),
  yaxis5: frame({domain: [py(1311.7), py(984.7)], anchor: 'x5', type: 'log', range: rangeLogR,
    tickmode: 'array', tickvals: decadeTicks, ticktext: decadeLabels, minor: minorLog, tickfont: tf(29)}),
  xaxis6: frame({domain: [px(1089.7), px(1738.6)], anchor: 'y6', range: [0, 8.5], tick0: 0, dtick: 1,
    minor: minorLin(0.5, 4), tickfont: tf(27)}),
  yaxis6: frame({domain: [py(1386), py(1328.3)], anchor: 'x6', range: [-4.45, 4.5],
    tickmode: 'array', tickvals: residTicksR, ticktext: residLabelsR, minor: minorLin(1.5, 4), tickfont: tf(17)}),
  // inward ticks along the top and right edges
  xaxis7: inner({overlaying: 'x', anchor: 'y', side: 'top', range: [0, 1], tick0: 0, dtick: 0.5, minor: minorLin(0.25, 4, 'inside')}),
  yaxis7: inner({overlaying: 'y', anchor: 'x', side: 'right', range: rangeTL, tickmode: 'array', tickvals: deltaTicksL,
    minor: minorLin(1e-6, 4, 'inside')}),
  xaxis8: inner({overlaying: 'x2', anchor: 'y2', side: 'top', range: [0, 2], tick0: 0, dtick: 0.5, minor: minorLin(0.25, 4, 'inside')}),
  yaxis8: inner({overlaying: 'y2', anchor: 'x2', side: 'right', range: rangeTR, tickmode: 'array', tickvals: deltaTicksR,
    minor: minorLin(1e-6, 4, 'inside')}),
  xaxis9: inner({overlaying: 'x3', anchor: 'y3', side: 'top', range: [0, 8.5], tick0: 0, dtick: 1, ticklen: 6}),
  yaxis9: inner({overlaying: 'y3', anchor: 'x3', side: 'right', type: 'log', range: rangeLogL, tickmode: 'array',
    tickvals: decadeTicks, minor: minorLog}),
  xaxis10: inner({overlaying: 'x5', anchor: 'y5', side: 'top', range: [0, 8.5], tick0: 0, dtick: 1, ticklen: 6}),
  yaxis10: inner({overlaying: 'y5', anchor: 'x5', side: 'right', type: 'log', range: rangeLogR, tickmode: 'array',
    tickvals: decadeTicks, minor: minorLog}),
  annotations: annotations,
  shapes: shapes
};

Plotly.newPlot('chart', traces, layout, {staticPlot: true, displayModeBar: false});
</script>
</body>
</html>
